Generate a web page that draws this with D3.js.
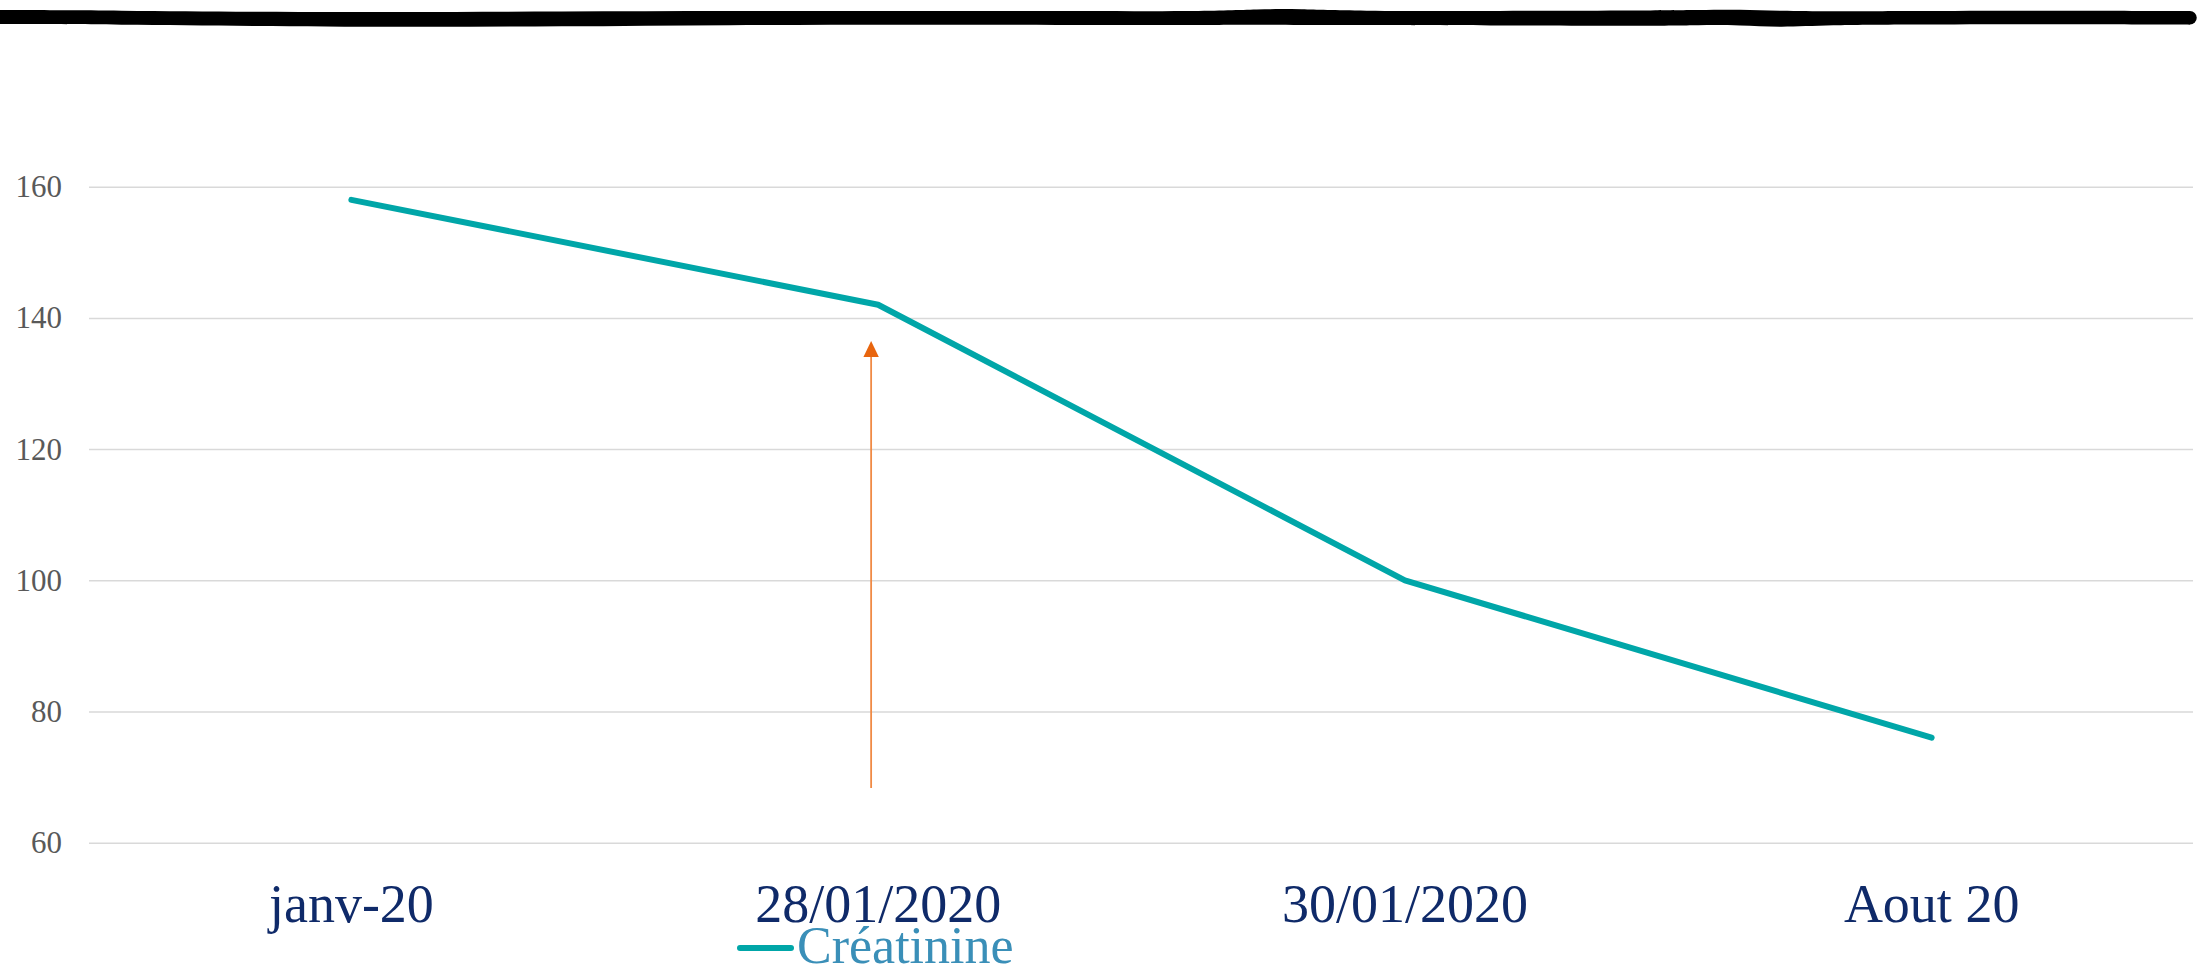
<!DOCTYPE html>
<html>
<head>
<meta charset="utf-8">
<script src="https://cdnjs.cloudflare.com/ajax/libs/d3/7.8.5/d3.min.js"></script>
<style>
  body { margin: 0; background: #fff; }
  svg { display: block; }
</style>
</head>
<body>
<svg width="2203" height="973"></svg>
<script>
// data
var categories = ["janv-20", "28/01/2020", "30/01/2020", "Aout 20"];
var creatinine = [158, 142, 100, 76];
var yTicks = [60, 80, 100, 120, 140, 160];
var seriesName = "Créatinine";

// wobbly marker stroke across the top (decoration only): x, top edge, bottom edge
var brushX      = [0,  120,  250, 400, 560,  730, 900,  1060, 1200, 1260, 1300, 1350, 1500, 1650, 1700, 1740, 1780, 1830, 1900, 2050, 2190];
var brushTop    = [10, 10.5, 12,  12,  11.5, 11,  11,   11,   11.5, 9,    9,    11,   11,   10.5, 10,   9.5,  11,   11.5, 11,   10.5, 11];
var brushBottom = [24, 24.5, 26,  27,  26.5, 25,  24.5, 25,   25,   24.5, 25,   25,   25.5, 26,   25,   25,   27.5, 25,   24.5, 24,   24.5];

var svg = d3.select('svg');

var x = d3.scaleBand().domain(categories).range([88, 2195]).padding(0);
var y = d3.scaleLinear().domain([60, 160]).range([842.7, 186.7]);

// top brush
var brushArea = d3.area()
    .x(function(d, i) { return brushX[i]; })
    .y0(function(d, i) { return brushTop[i]; })
    .y1(function(d, i) { return brushBottom[i]; })
    .curve(d3.curveBasis);
svg.append('path')
    .datum(brushX)
    .attr('d', brushArea)
    .attr('fill', '#000');
var last = brushX.length - 1;
svg.append('circle')
    .attr('cx', brushX[last])
    .attr('cy', (brushTop[last] + brushBottom[last]) / 2)
    .attr('r', (brushBottom[last] - brushTop[last]) / 2)
    .attr('fill', '#000');

// y axis + gridlines
var yAxis = svg.append('g')
    .attr('transform', 'translate(89,0)')
    .call(d3.axisLeft(y).tickValues(yTicks).tickSize(-(2193 - 89)).tickPadding(27));
yAxis.select('.domain').remove();
yAxis.selectAll('.tick line').attr('stroke', '#d9d9d9').attr('stroke-width', 1.5);
yAxis.selectAll('.tick text')
    .attr('fill', '#595959')
    .style('font-family', '"Liberation Serif", "Times New Roman", serif')
    .style('font-size', '31px');

// x axis labels
var xAxis = svg.append('g')
    .attr('transform', 'translate(0,922)')
    .call(d3.axisBottom(x).tickSize(0).tickPadding(0));
xAxis.select('.domain').remove();
xAxis.selectAll('.tick text')
    .attr('y', 0).attr('dy', 0)
    .attr('fill', '#0f2a69')
    .style('font-family', '"Liberation Serif", "Times New Roman", serif')
    .style('font-size', '54px');

// series line
var line = d3.line()
    .x(function(d, i) { return x(categories[i]) + x.bandwidth() / 2; })
    .y(function(d) { return y(d); });

svg.append('path')
    .datum(creatinine)
    .attr('d', line)
    .attr('fill', 'none')
    .attr('stroke', '#00a6a8')
    .attr('stroke-width', 6)
    .attr('stroke-linejoin', 'round')
    .attr('stroke-linecap', 'round');

// orange arrow under second point
var ax = x(categories[1]) + x.bandwidth() / 2 - 7;
svg.append('line')
    .attr('x1', ax).attr('x2', ax)
    .attr('y1', 788).attr('y2', 356)
    .attr('stroke', '#f08a45')
    .attr('stroke-width', 1.8);
svg.append('path')
    .attr('d', 'M' + ax + ',341 L' + (ax + 7.7) + ',357 L' + (ax - 7.7) + ',357 Z')
    .attr('fill', '#e8650e');

// legend
var lg = svg.append('g');
lg.append('line')
    .attr('x1', 740).attr('x2', 791)
    .attr('y1', 948).attr('y2', 948)
    .attr('stroke', '#00a6a8')
    .attr('stroke-width', 6)
    .attr('stroke-linecap', 'round');
lg.append('text')
    .attr('x', 797).attr('y', 963)
    .attr('fill', '#3a8fb8')
    .style('font-family', '"Liberation Serif", "Times New Roman", serif')
    .style('font-size', '52px')
    .text(seriesName);
</script>
</body>
</html>
